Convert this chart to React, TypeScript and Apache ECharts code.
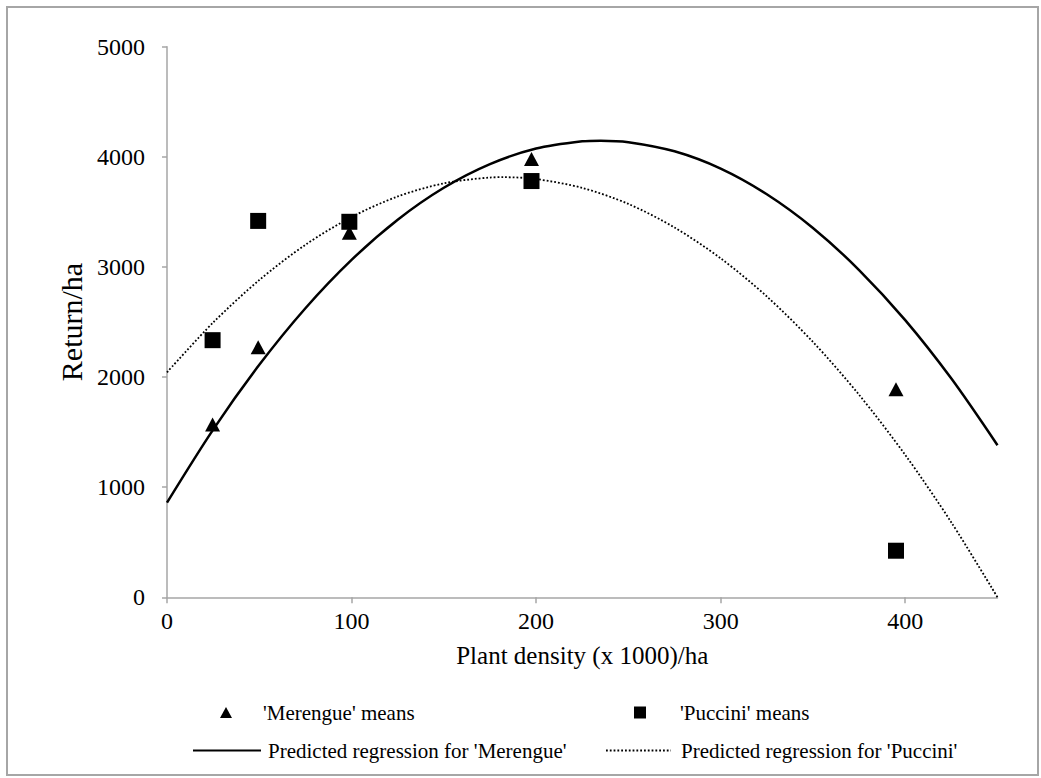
import React, { useEffect, useRef } from "react";
import * as echarts from "echarts";

// Plant density (x 1000)/ha of the observed means
const densityX = [24.7, 49.4, 98.8, 197.5, 395];
// Observed means of return/ha
const merengueMeans = [1570, 2270, 3310, 3980, 1890];
const pucciniMeans = [2335, 3418, 3410, 3780, 423];

// Predicted regression curves (points along each curve, incl. its peak)
const merengueCurveX = [0, 25, 50, 75, 100, 125, 150, 175, 200, 225, 235, 250, 275, 300, 325, 350, 375, 400, 425, 450];
const merengueFit = [860, 1523, 2111, 2625, 3064, 3429, 3719, 3934, 4075, 4141, 4147, 4133, 4050, 3893, 3660, 3354, 2972, 2517, 1986, 1381];
const pucciniCurveX = [0, 25, 50, 75, 100, 125, 150, 175, 182.5, 200, 225, 250, 275, 300, 325, 350, 375, 400, 425, 450];
const pucciniFit = [2043, 2495, 2881, 3201, 3453, 3640, 3759, 3812, 3815, 3798, 3718, 3572, 3358, 3078, 2732, 2319, 1839, 1293, 680, 0];

const xTicks = [0, 100, 200, 300, 400];

const seriesNames = [
  "'Merengue' means",
  "'Puccini' means",
  "Predicted regression for 'Merengue'",
  "Predicted regression for 'Puccini'",
];

const FONT = "'Liberation Serif', 'Times New Roman', serif";
const AXIS_COLOR = "#a6a6a6";

export default function App() {
  const ref = useRef<HTMLDivElement>(null);

  useEffect(() => {
    if (!ref.current) return;
    const chart = echarts.init(ref.current, null, { renderer: "svg" });
    const zip = (xs: number[], ys: number[]) => xs.map((x, i) => [x, ys[i]]);
    const legendText = { fontFamily: FONT, fontSize: 21, color: "#000" };
    const hiddenSymbol = {
      color: "rgba(0,0,0,0)",
      borderColor: "rgba(0,0,0,0)",
      borderWidth: 0,
      opacity: 0,
    };
    chart.setOption({
      animation: false,
      backgroundColor: "#fff",
      textStyle: { fontFamily: FONT },
      grid: {
        left: 167,
        right: 43.5,
        top: 46.7,
        bottom: 180.7,
        containLabel: false,
        outerBoundsMode: "none",
      },
      xAxis: {
        type: "value",
        min: 0,
        max: 450,
        interval: 100,
        name: "Plant density (x 1000)/ha",
        nameLocation: "middle",
        nameGap: 46,
        nameTextStyle: { fontFamily: FONT, fontSize: 25, color: "#000" },
        axisLine: { show: true, onZero: false, lineStyle: { color: AXIS_COLOR, width: 1.5 } },
        axisTick: { show: true, length: 6, customValues: xTicks, lineStyle: { color: AXIS_COLOR, width: 1.5 } },
        axisLabel: {
          fontFamily: FONT,
          fontSize: 24,
          color: "#000",
          margin: 12,
          customValues: xTicks,
          formatter: (v: number) => String(v),
        },
        splitLine: { show: false },
      },
      yAxis: {
        type: "value",
        min: 0,
        max: 5000,
        interval: 1000,
        name: "Return/ha",
        nameLocation: "middle",
        nameGap: 80,
        nameTextStyle: { fontFamily: FONT, fontSize: 30, color: "#000" },
        axisLine: { show: true, lineStyle: { color: AXIS_COLOR, width: 1.5 } },
        axisTick: { show: true, length: 5, lineStyle: { color: AXIS_COLOR, width: 1.5 } },
        axisLabel: {
          fontFamily: FONT,
          fontSize: 24,
          color: "#000",
          margin: 22,
          formatter: (v: number) => String(v),
        },
        splitLine: { show: false },
      },
      legend: [
        {
          data: [seriesNames[0]],
          left: 220,
          top: 702,
          padding: 0,
          itemWidth: 12,
          itemHeight: 11,
          icon: "triangle",
          itemStyle: { color: "#000", opacity: 1 },
          textStyle: { ...legendText, padding: [0, 0, 0, 26] },
        },
        {
          data: [seriesNames[1]],
          left: 634,
          top: 702,
          padding: 0,
          itemWidth: 12,
          itemHeight: 12,
          icon: "rect",
          itemStyle: { color: "#000", opacity: 1 },
          textStyle: { ...legendText, padding: [0, 0, 0, 29] },
        },
        {
          data: [seriesNames[2]],
          left: 192,
          top: 740,
          padding: 0,
          itemWidth: 68,
          itemHeight: 14,
          itemStyle: hiddenSymbol,
          textStyle: { ...legendText, padding: [0, 0, 0, 2] },
        },
        {
          data: [seriesNames[3]],
          left: 605,
          top: 740,
          padding: 0,
          itemWidth: 65,
          itemHeight: 14,
          itemStyle: hiddenSymbol,
          textStyle: { ...legendText, padding: [0, 0, 0, 5] },
        },
      ],
      graphic: [
        {
          type: "rect",
          shape: { x: 7, y: 7, width: 1031, height: 768 },
          style: { fill: "none", stroke: "#a6a6a6", lineWidth: 2 },
          silent: true,
          z: 100,
        },
      ],
      series: [
        {
          name: seriesNames[0],
          type: "scatter",
          data: zip(densityX, merengueMeans),
          symbol: "triangle",
          symbolSize: [15, 14],
          itemStyle: { color: "#000", opacity: 1 },
          z: 5,
        },
        {
          name: seriesNames[1],
          type: "scatter",
          data: zip(densityX, pucciniMeans),
          symbol: "rect",
          symbolSize: 16,
          itemStyle: { color: "#000", opacity: 1 },
          z: 5,
        },
        {
          name: seriesNames[2],
          type: "line",
          data: zip(merengueCurveX, merengueFit),
          smooth: 0.3,
          symbol: "none",
          showSymbol: false,
          lineStyle: { color: "#000", width: 2.5, type: "solid" },
          itemStyle: { color: "#000" },
          z: 3,
        },
        {
          name: seriesNames[3],
          type: "line",
          data: zip(pucciniCurveX, pucciniFit),
          smooth: 0.3,
          symbol: "none",
          showSymbol: false,
          lineStyle: { color: "#000", width: 1.8, type: [1.8, 2] },
          itemStyle: { color: "#000" },
          z: 3,
        },
      ],
    });
    return () => chart.dispose();
  }, []);

  return (
    <div
      ref={ref}
      style={{ position: "fixed", left: 0, top: 0, width: 1041, height: 778, background: "#fff" }}
    />
  );
}
